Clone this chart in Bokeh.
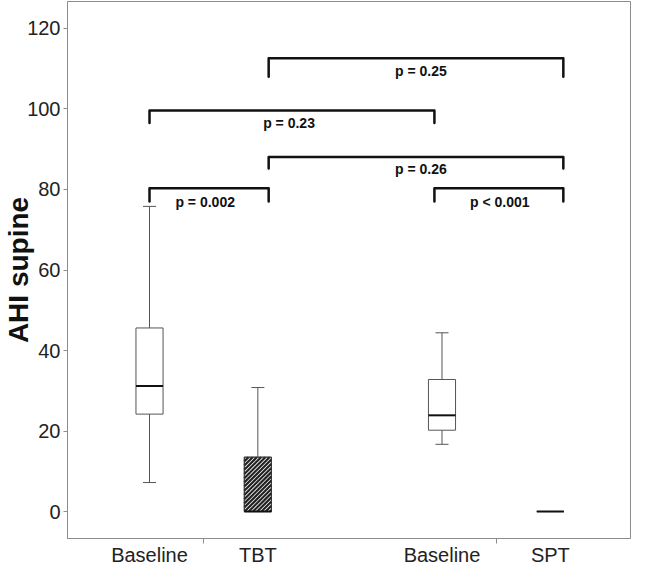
from bokeh.plotting import figure
from bokeh.models import Range1d, FixedTicker, ColumnDataSource
from bokeh.core.properties import value
from bokeh.embed import file_html
from bokeh.resources import INLINE

# ---- data ----
groups = ["Baseline", "TBT", "Baseline", "SPT"]
positions = [1.0, 2.0, 3.7, 4.7]
whisker_low = [7.2, 0.0, 16.7, 0.0]
q1 = [24.2, 0.0, 20.2, 0.0]
median = [31.2, 0.0, 23.9, 0.0]
q3 = [45.6, 13.5, 32.8, 0.0]
whisker_high = [75.8, 30.8, 44.4, 0.0]
hatched = [False, True, False, False]

group_boundaries = [1.5, 4.2]
y_ticks = [0, 20, 40, 60, 80, 100, 120]

bracket_x0 = [2.10, 1.0, 2.10, 1.0, 3.63]
bracket_x1 = [4.82, 3.63, 4.82, 2.10, 4.82]
bracket_y = [112.6, 99.6, 88.1, 80.3, 80.3]
bracket_leg = [108.0, 96.5, 85.2, 77.0, 77.0]
p_labels = ["p = 0.25", "p = 0.23", "p = 0.26", "p = 0.002", "p < 0.001"]
p_label_x = [3.505, 2.288, 3.505, 1.514, 4.234]
p_label_y = [109.4, 96.5, 85.1, 76.8, 76.8]

BOX_W = 0.25
CAP_W = 0.12
AXIS_GREY = "#8c8c8c"
TEXT = "#222222"
FONT = "Liberation Sans"
X_RANGE = (0.243, 5.44)
Y_RANGE = (-6.7, 126.7)
W, H = 631, 568

p = figure(width=W, height=H, output_backend="svg", toolbar_location=None,
           x_range=Range1d(*X_RANGE), y_range=Range1d(*Y_RANGE),
           min_border_left=0, min_border_right=1, min_border_top=1, min_border_bottom=0,
           background_fill_color="white", border_fill_color="white")
p.xgrid.visible = False
p.ygrid.visible = False
p.outline_line_color = AXIS_GREY
p.outline_line_width = 1

# whiskers
p.segment(x0=positions, y0=q3, x1=positions, y1=whisker_high, line_color="#555555", line_width=1)
p.segment(x0=positions, y0=whisker_low, x1=positions, y1=q1, line_color="#555555", line_width=1)
# caps
p.segment(x0=[x - CAP_W / 2 for x in positions], y0=whisker_high,
          x1=[x + CAP_W / 2 for x in positions], y1=whisker_high, line_color="#555555", line_width=1)
p.segment(x0=[x - CAP_W / 2 for x in positions], y0=whisker_low,
          x1=[x + CAP_W / 2 for x in positions], y1=whisker_low, line_color="#555555", line_width=1)

# boxes
p.vbar(x=positions, width=BOX_W, bottom=q1, top=q3, fill_color="white",
       line_color="#555555", line_width=1)

# diagonal hatching ("/") for the hatched box, derived from its box extents
kx = (W - 69) / (X_RANGE[1] - X_RANGE[0])   # approx screen px per x unit
ky = (H - 31) / (Y_RANGE[1] - Y_RANGE[0])   # approx screen px per y unit
hx0, hy0, hx1, hy1 = [], [], [], []
for i, h in enumerate(hatched):
    if not h:
        continue
    left = positions[i] - BOX_W / 2
    bw = BOX_W * kx
    bh = (q3[i] - q1[i]) * ky
    c = -bh
    while c < bw:
        v0 = max(0.0, -c)
        v1 = min(bh, bw - c)
        if v1 > v0:
            hx0.append(left + (v0 + c) / kx)
            hy0.append(q1[i] + v0 / ky)
            hx1.append(left + (v1 + c) / kx)
            hy1.append(q1[i] + v1 / ky)
        c += 4.2
p.segment(x0=hx0, y0=hy0, x1=hx1, y1=hy1, line_color="#222222", line_width=2.2)
p.vbar(x=[positions[i] for i, h in enumerate(hatched) if h], width=BOX_W,
       bottom=[q1[i] for i, h in enumerate(hatched) if h],
       top=[q3[i] for i, h in enumerate(hatched) if h],
       fill_alpha=0, line_color="#333333", line_width=1)

# medians
p.segment(x0=[x - BOX_W / 2 for x in positions], y0=median,
          x1=[x + BOX_W / 2 for x in positions], y1=median, line_color="#111111", line_width=2)

# significance brackets
p.multi_line(xs=[[a, a, b, b] for a, b in zip(bracket_x0, bracket_x1)],
             ys=[[l, y, y, l] for y, l in zip(bracket_y, bracket_leg)],
             line_color="#111111", line_width=2.5, line_join="round", line_cap="round")
src = ColumnDataSource(dict(x=p_label_x, y=p_label_y, t=p_labels))
p.text(x="x", y="y", text="t", source=src, text_font=value(FONT), text_font_style="bold",
       text_font_size="14px", text_align="center", text_baseline="middle", text_color="#111111")

# x axis
p.xaxis.ticker = FixedTicker(ticks=positions, minor_ticks=group_boundaries)
p.xaxis.major_label_overrides = {x: g for x, g in zip(positions, groups)}
p.xaxis.major_tick_out = 0
p.xaxis.major_tick_in = 0
p.xaxis.minor_tick_out = 5
p.xaxis.minor_tick_in = 0
p.xaxis.minor_tick_line_color = AXIS_GREY
p.xaxis.axis_line_color = AXIS_GREY
p.xaxis.major_label_standoff = 0
p.xaxis.major_label_text_font = FONT
p.xaxis.major_label_text_font_size = "20px"
p.xaxis.major_label_text_color = TEXT

# y axis
p.yaxis.ticker = FixedTicker(ticks=y_ticks)
p.yaxis.major_tick_out = 4
p.yaxis.major_tick_in = 0
p.yaxis.minor_tick_out = 0
p.yaxis.minor_tick_in = 0
p.yaxis.major_tick_line_color = AXIS_GREY
p.yaxis.axis_line_color = AXIS_GREY
p.yaxis.major_label_standoff = 3
p.yaxis.major_label_text_font = FONT
p.yaxis.major_label_text_font_size = "20px"
p.yaxis.major_label_text_color = TEXT
p.yaxis.axis_label = "AHI supine"
p.yaxis.axis_label_text_font = FONT
p.yaxis.axis_label_text_font_style = "bold"
p.yaxis.axis_label_text_font_size = "28px"
p.yaxis.axis_label_text_color = "#111111"
p.yaxis.axis_label_standoff = -10

open("out.html", "w").write(file_html(p, INLINE))
